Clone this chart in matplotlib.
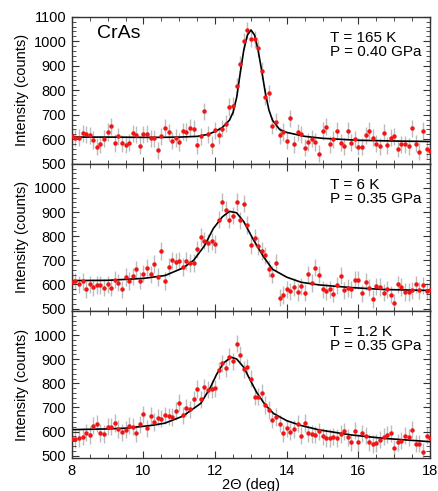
import numpy as np
import matplotlib.pyplot as plt
from matplotlib.ticker import MultipleLocator

plt.rcParams['font.family'] = ['Liberation Sans', 'DejaVu Sans']

# scan positions (deg), 0.1 deg steps
two_theta = np.round(np.arange(8.0, 18.05, 0.1), 1)

# T = 165 K, P = 0.40 GPa
top_counts = [613, 606, 606, 624, 620, 616, 597, 570, 579, 602,
              630, 653, 585, 612, 583, 578, 586, 625, 619, 574,
              620, 623, 604, 604, 555, 613, 647, 628, 595, 605,
              589, 632, 630, 647, 644, 576, 612, 715, 620, 577,
              636, 616, 644, 664, 732, 736, 816, 906, 999, 1045,
              1011, 1008, 972, 879, 773, 788, 655, 672, 617, 630,
              595, 685, 579, 628, 620, 565, 589, 602, 589, 541,
              634, 651, 579, 600, 634, 586, 572, 634, 586, 600,
              569, 569, 617, 635, 606, 582, 572, 627, 576, 606,
              613, 561, 579, 579, 572, 645, 582, 549, 634, 559, 552]
top_fit_x = [8.0, 9.0, 10.0, 10.5, 11.0, 11.5, 11.8, 12.0, 12.2, 12.4, 12.5,
             12.6, 12.7, 12.8, 12.9, 13.0, 13.1, 13.2, 13.3, 13.4, 13.5, 13.6,
             13.8, 14.0, 14.5, 15.0, 16.0, 17.0, 18.0]
top_fit_y = [609, 609, 608, 608, 609, 612, 620, 632, 648, 678, 710,
             770, 870, 965, 1025, 1046, 1025, 963, 879, 790, 720, 678,
             640, 628, 612, 604, 596, 593, 591]

# T = 6 K, P = 0.35 GPa
mid_counts = [611, 613, 600, 613, 580, 601, 588, 598, 598, 586,
              601, 586, 620, 608, 580, 631, 614, 634, 662, 616,
              645, 669, 642, 684, 631, 739, 614, 673, 700, 695,
              697, 673, 697, 689, 689, 746, 796, 782, 772, 779,
              768, 869, 941, 908, 869, 885, 941, 866, 935, 847,
              764, 794, 760, 738, 721, 666, 641, 690, 545, 556,
              579, 571, 590, 569, 592, 566, 642, 606, 669, 640,
              580, 571, 580, 562, 596, 636, 575, 585, 579, 619,
              619, 563, 612, 587, 540, 592, 590, 566, 580, 558,
              523, 600, 590, 569, 568, 575, 601, 575, 596, 571, 575]
mid_fit_x = [8.0, 9.0, 10.0, 10.2, 10.6, 11.1, 11.4, 11.7, 11.95, 12.2, 12.4,
             12.6, 12.8, 13.05, 13.35, 13.6, 14.0, 14.4, 14.9, 15.8, 16.7, 18.0]
mid_fit_y = [616, 617, 625, 629, 637, 668, 700, 760, 832, 880, 903,
             897, 860, 790, 715, 663, 630, 609, 598, 587, 579, 575]

# T = 1.2 K, P = 0.35 GPa
bot_counts = [569, 569, 573, 579, 596, 586, 624, 633, 594, 590,
              620, 620, 635, 611, 597, 608, 625, 621, 592, 630,
              671, 613, 664, 640, 658, 654, 667, 663, 661, 685,
              720, 667, 699, 692, 734, 777, 734, 783, 774, 777,
              779, 854, 883, 864, 911, 891, 964, 918, 858, 866,
              819, 745, 745, 760, 710, 689, 650, 661, 633, 593,
              614, 600, 611, 633, 583, 635, 593, 590, 587, 601,
              580, 573, 573, 579, 573, 590, 601, 576, 555, 604,
              555, 593, 583, 555, 548, 552, 567, 579, 587, 593,
              531, 555, 562, 583, 576, 608, 550, 550, 517, 583, 573]
bot_fit_x = [8.0, 9.0, 9.5, 10.2, 10.6, 11.1, 11.6, 11.86, 12.04, 12.23, 12.45,
             12.6, 12.8, 12.97, 13.16, 13.4, 13.63, 14.0, 14.4, 14.9, 15.8,
             16.7, 18.0]
bot_fit_y = [608, 611, 614, 625, 635, 664, 717, 781, 837, 884, 908,
             901, 866, 816, 762, 710, 675, 645, 625, 607, 586,
             572, 558]

error = [35, 36, 36]
labels = ["T = 165 K\nP = 0.40 GPa", "T = 6 K\nP = 0.35 GPa", "T = 1.2 K\nP = 0.35 GPa"]

fig, axes = plt.subplots(3, 1, figsize=(4.38, 4.91), dpi=100, sharex=True)
fig.subplots_adjust(left=0.164, right=0.982, top=0.966, bottom=0.067, hspace=0)

panels = [(top_counts, top_fit_x, top_fit_y),
          (mid_counts, mid_fit_x, mid_fit_y),
          (bot_counts, bot_fit_x, bot_fit_y)]

for k, (ax, (cnt, fx, fy)) in enumerate(zip(axes, panels)):
    ax.errorbar(two_theta, cnt, yerr=error[k], fmt='none', ecolor='#bcbcbc',
                elinewidth=1, capsize=0, zorder=1)
    ax.plot(fx, fy, color='black', lw=1.2, zorder=2)
    ax.plot(two_theta, cnt, 'o', color='#f01414', ms=3.2, mec='none', zorder=3)

    ax.set_xlim(8, 18)
    if k == 0:
        ax.set_ylim(500, 1100)
        ax.set_yticks(range(500, 1101, 100))
    else:
        ax.set_ylim(490, 1100)
        ax.set_yticks(range(500, 1001, 100))
    ax.yaxis.set_minor_locator(MultipleLocator(20))
    ax.xaxis.set_major_locator(MultipleLocator(2))
    ax.xaxis.set_minor_locator(MultipleLocator(0.5))
    ax.tick_params(which='both', direction='in', top=True, right=True,
                   labelsize=10.5, pad=4, color='#333333')
    ax.tick_params(which='major', length=5)
    ax.tick_params(which='minor', length=3)
    for s in ax.spines.values():
        s.set_linewidth(1.0)
        s.set_color('#333333')
    ax.set_ylabel("Intensity (counts)", fontsize=10.5, labelpad=3)
    ax.text(0.72, 0.905, labels[k], transform=ax.transAxes, fontsize=11,
            va='top', ha='left', linespacing=1.0)

axes[0].text(0.07, 0.885, "CrAs", transform=axes[0].transAxes, fontsize=14,
             va='center', ha='left')
axes[2].set_xlabel("2Θ (deg)", fontsize=10.5, labelpad=0)

fig.savefig("out.png", dpi=100)
